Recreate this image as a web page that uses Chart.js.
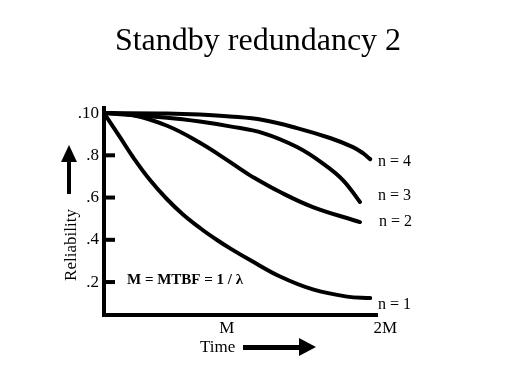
<!DOCTYPE html>
<html>
<head>
<meta charset="utf-8">
<script src="https://cdn.jsdelivr.net/npm/chart.js@4/dist/chart.umd.min.js"></script>
<style>
  html, body { margin: 0; padding: 0; background: #fff; }
  #wrap { width: 519px; height: 389px; }
</style>
</head>
<body>
<div id="wrap"><canvas id="grafico" width="519" height="389"></canvas></div>
<script>
// Datos (tiempo en unidades de M)
const tiempoN1 = [0, 0.117, 0.212, 0.337, 0.462, 0.579, 0.703, 0.828, 0.93, 1.07, 1.29, 1.53, 1.78, 1.95];
const fiabN1   = [1.0, 0.886, 0.792, 0.683, 0.592, 0.52, 0.456, 0.399, 0.357, 0.304, 0.226, 0.165, 0.131, 0.124];

const tiempoN2 = [0, 0.212, 0.462, 0.703, 0.872, 1.0, 1.07, 1.29, 1.53, 1.875];
const fiabN2   = [1.0, 0.99, 0.94, 0.86, 0.79, 0.735, 0.705, 0.626, 0.555, 0.484];

const tiempoN3 = [0, 0.462, 0.703, 0.923, 1.165, 1.414, 1.60, 1.75, 1.875];
const fiabN3   = [1.0, 0.978, 0.96, 0.937, 0.905, 0.839, 0.763, 0.683, 0.579];

const tiempoN4 = [0, 0.462, 0.703, 0.923, 1.165, 1.414, 1.656, 1.824, 1.897, 1.95];
const fiabN4   = [1.0, 0.998, 0.993, 0.984, 0.967, 0.929, 0.882, 0.839, 0.81, 0.782];

const etiquetasSerie = ['n = 1', 'n = 2', 'n = 3', 'n = 4'];
const ticksY = [0.2, 0.4, 0.6, 0.8, 1.0];
const etiquetasY = ['.2', '.4', '.6', '.8', '.10'];
const ticksX = [0.9, 2.06];
const etiquetasX = ['M', '2M'];

const serif = '"Liberation Serif", "Times New Roman", serif';

function puntos(xs, ys) {
    return xs.map((x, i) => ({ x: x, y: ys[i] }));
}

function serie(label, xs, ys) {
    return {
        label: label,
        data: puntos(xs, ys),
        borderColor: '#000',
        borderWidth: 4,
        pointRadius: 0,
        fill: false,
        tension: 0.4,
        borderCapStyle: 'round'
    };
}

// Textos, flechas y marcas interiores del eje Y
const decoracion = {
    id: 'decoracion',
    afterDraw(chart) {
        const ctx = chart.ctx;
        const y = chart.scales.y;
        const area = chart.chartArea;
        ctx.save();
        ctx.fillStyle = '#000';

        // marcas de los ticks hacia dentro
        ticksY.forEach(v => {
            const py = y.getPixelForValue(v);
            ctx.fillRect(area.left, py - 2, 11, 4);
        });

        // titulo
        ctx.font = '32px ' + serif;
        ctx.textAlign = 'center';
        ctx.textBaseline = 'alphabetic';
        ctx.fillText('Standby redundancy 2', 258, 50);

        // etiquetas de las curvas
        ctx.font = '16px ' + serif;
        ctx.textAlign = 'left';
        ctx.textBaseline = 'middle';
        ctx.fillText(etiquetasSerie[3], 378, 162);
        ctx.fillText(etiquetasSerie[2], 378, 196);
        ctx.fillText(etiquetasSerie[1], 379, 222);
        ctx.fillText(etiquetasSerie[0], 378, 305);

        // formula
        ctx.font = 'bold 15px ' + serif;
        ctx.fillText('M = MTBF = 1 / \u03bb', 127, 280);

        // Reliability vertical
        ctx.save();
        ctx.translate(72, 245);
        ctx.rotate(-Math.PI / 2);
        ctx.font = '17px ' + serif;
        ctx.textAlign = 'center';
        ctx.fillText('Reliability', 0, 0);
        ctx.restore();

        // flecha hacia arriba
        ctx.fillRect(67, 160, 4, 34);
        ctx.beginPath();
        ctx.moveTo(69, 145);
        ctx.lineTo(61, 162);
        ctx.lineTo(77, 162);
        ctx.closePath();
        ctx.fill();

        // Time + flecha
        ctx.font = '17px ' + serif;
        ctx.fillText('Time', 200, 348);
        ctx.fillRect(243, 345, 58, 5);
        ctx.beginPath();
        ctx.moveTo(316, 347);
        ctx.lineTo(299, 338);
        ctx.lineTo(299, 356);
        ctx.closePath();
        ctx.fill();

        ctx.restore();
    }
};

const ctxG = document.getElementById('grafico').getContext('2d');
new Chart(ctxG, {
    type: 'line',
    data: {
        datasets: [
            serie(etiquetasSerie[0], tiempoN1, fiabN1),
            serie(etiquetasSerie[1], tiempoN2, fiabN2),
            serie(etiquetasSerie[2], tiempoN3, fiabN3),
            serie(etiquetasSerie[3], tiempoN4, fiabN4)
        ]
    },
    options: {
        responsive: false,
        animation: false,
        layout: { padding: { left: 0, top: 108, right: 142, bottom: 0 } },
        plugins: {
            legend: { display: false },
            title: { display: false },
            tooltip: { enabled: false }
        },
        scales: {
            x: {
                type: 'linear',
                min: 0,
                max: 2,
                afterFit: s => { s.height = 74; },
                afterBuildTicks: s => { s.ticks = ticksX.map(v => ({ value: v })); },
                grid: { display: false, drawTicks: false },
                border: { display: true, color: '#000', width: 4 },
                ticks: {
                    color: '#000',
                    padding: 3,
                    font: { family: serif, size: 17 },
                    callback: (v, i) => etiquetasX[i]
                }
            },
            y: {
                type: 'linear',
                min: 0.044,
                max: 1.024,
                afterFit: s => { s.width = 104; },
                afterBuildTicks: s => { s.ticks = ticksY.map(v => ({ value: v })); },
                grid: { display: false, drawTicks: false },
                border: { display: true, color: '#000', width: 4 },
                ticks: {
                    color: '#000',
                    padding: 5,
                    font: { family: serif, size: 17 },
                    callback: (v, i) => etiquetasY[i]
                }
            }
        }
    },
    plugins: [decoracion]
});
</script>
</body>
</html>
